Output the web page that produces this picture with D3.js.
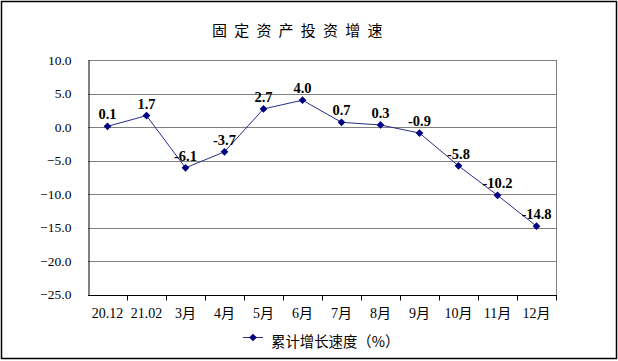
<!DOCTYPE html>
<html>
<head>
<meta charset="utf-8">
<script src="https://cdn.jsdelivr.net/npm/d3@7"></script>
<style>
  body { margin: 0; background: #fff; }
  svg { display: block; }
</style>
</head>
<body>
<svg width="618" height="361"></svg>
<script>
var categories = ["20.12", "21.02", "3月", "4月", "5月", "6月", "7月", "8月", "9月", "10月", "11月", "12月"];
var values = [0.1, 1.7, -6.1, -3.7, 2.7, 4.0, 0.7, 0.3, -0.9, -5.8, -10.2, -14.8];
var yTicks = [10, 5, 0, -5, -10, -15, -20, -25];
var title = "固定资产投资增速";
var seriesName = "累计增长速度（%）";

var svg = d3.select("svg");
// note: "top" is reserved on window, so use plot* names
var plotLeft = 88, plotRight = 556, plotTop = 60, plotBottom = 294.5;

// outer frame
svg.append("rect")
  .attr("x", 1.5).attr("y", 1.5)
  .attr("width", 615).attr("height", 357)
  .attr("fill", "#fff").attr("stroke", "#000").attr("stroke-width", 1.5);

svg.append("text")
  .attr("x", 212).attr("y", 35.5)
  .style("font-family", "'Noto Sans CJK SC', sans-serif")
  .style("font-size", "15px")
  .style("letter-spacing", "7.2px")
  .text(title);

var x = d3.scaleBand().domain(categories).range([plotLeft, plotRight]);
var y = d3.scaleLinear().domain([-25, 10]).range([plotBottom, plotTop]);

// gridlines
svg.append("g").selectAll("line")
  .data(yTicks)
  .enter().append("line")
  .attr("x1", plotLeft).attr("x2", plotRight)
  .attr("y1", function(d) { return Math.round(y(d)) + 0.5; })
  .attr("y2", function(d) { return Math.round(y(d)) + 0.5; })
  .attr("stroke", "#808080");

// right border
svg.append("line")
  .attr("x1", plotRight + 0.5).attr("x2", plotRight + 0.5)
  .attr("y1", plotTop).attr("y2", plotBottom)
  .attr("stroke", "#808080");

// y axis
var yAxis = svg.append("g")
  .attr("transform", "translate(" + (plotLeft + 0.5) + ",0)")
  .call(d3.axisLeft(y).tickValues(yTicks).tickSize(0).tickPadding(17).tickFormat(d3.format(".1f")));
yAxis.select(".domain").attr("stroke", "#000");
yAxis.selectAll("text")
  .style("font-family", "'Liberation Serif', serif")
  .style("font-size", "13.5px")
  .attr("fill", "#000");

// x axis
var xAxis = svg.append("g")
  .attr("transform", "translate(0," + (Math.round(plotBottom) + 0.5) + ")")
  .call(d3.axisBottom(x).tickSize(0));
xAxis.select(".domain").attr("stroke", "#000").attr("d", "M" + plotLeft + ",0H" + (plotRight + 1));
xAxis.selectAll("text")
  .attr("y", 22).attr("dy", 0)
  .style("font-family", "'Liberation Serif', 'Noto Sans CJK SC', serif")
  .style("font-size", "14px")
  .attr("fill", "#000");
xAxis.append("g").selectAll("line")
  .data(categories)
  .enter().append("line")
  .attr("x1", function(d) { return Math.round(x(d) + x.bandwidth()) + 0.5; })
  .attr("x2", function(d) { return Math.round(x(d) + x.bandwidth()) + 0.5; })
  .attr("y1", 0).attr("y2", 5)
  .attr("stroke", "#000");

// line
var cx = function(d, i) { return x(categories[i]) + x.bandwidth() / 2; };
var line = d3.line()
  .x(function(d, i) { return cx(d, i); })
  .y(function(d) { return y(d); });
svg.append("path")
  .datum(values)
  .attr("d", line)
  .attr("fill", "none")
  .attr("stroke", "#2b2b8f")
  .attr("stroke-width", 1);

var diamond = d3.symbol().type(d3.symbolSquare).size(30);
svg.append("g").selectAll("path")
  .data(values)
  .enter().append("path")
  .attr("d", diamond)
  .attr("transform", function(d, i) { return "translate(" + cx(d, i) + "," + y(d) + ") rotate(45)"; })
  .attr("fill", "#000080");

svg.append("g").selectAll("text")
  .data(values)
  .enter().append("text")
  .attr("x", function(d, i) { return cx(d, i); })
  .attr("y", function(d) { return y(d) - 7; })
  .attr("text-anchor", "middle")
  .style("font-family", "'Liberation Serif', serif")
  .style("font-weight", "bold")
  .style("font-size", "14.5px")
  .text(function(d) { return d.toFixed(1); });

// legend
var lg = svg.append("g").attr("transform", "translate(243,337.5)");
lg.append("line").attr("x1", 0).attr("x2", 20).attr("y1", 0).attr("y2", 0)
  .attr("stroke", "#2b2b8f");
lg.append("path").attr("d", diamond).attr("transform", "translate(10,0) rotate(45)").attr("fill", "#000080");
lg.append("text")
  .attr("x", 28).attr("y", 9.5)
  .style("font-family", "'Noto Sans CJK SC', sans-serif")
  .style("font-size", "14.4px")
  .text(seriesName);
</script>
</body>
</html>
